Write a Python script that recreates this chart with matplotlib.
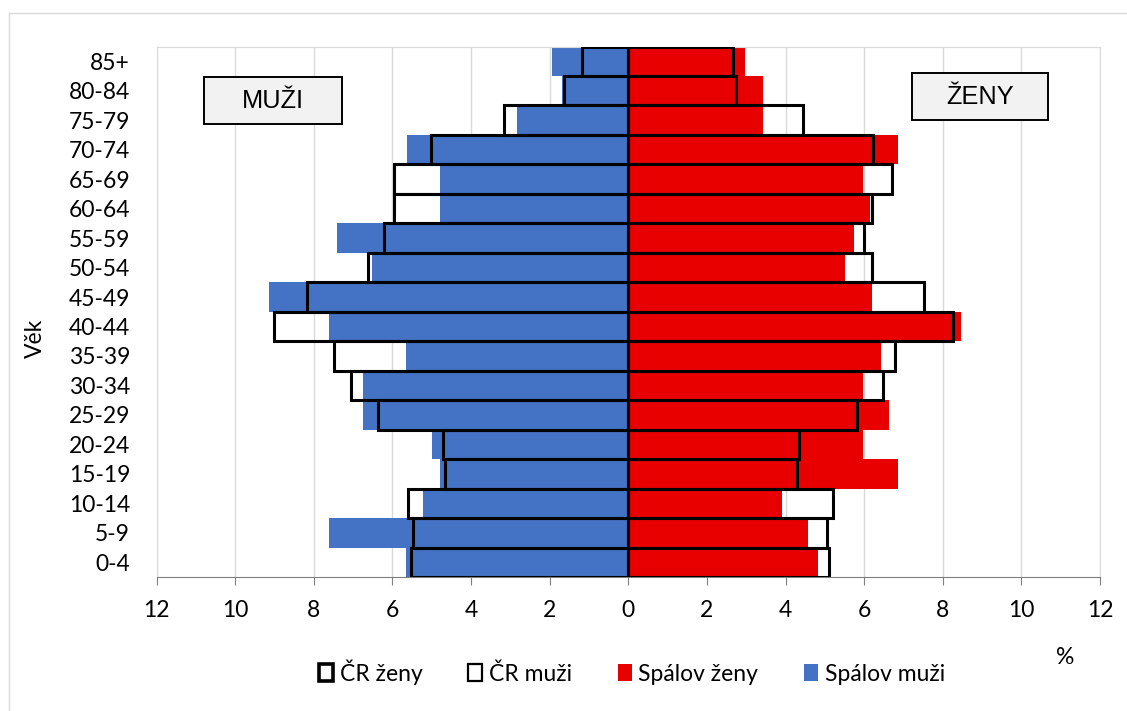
import matplotlib
matplotlib.use("Agg")
import matplotlib.pyplot as plt
from matplotlib.patches import Patch, Rectangle
from matplotlib.lines import Line2D

# vekove skupiny (odspodu nahoru)
vek = ["0-4", "5-9", "10-14", "15-19", "20-24", "25-29", "30-34", "35-39", "40-44",
       "45-49", "50-54", "55-59", "60-64", "65-69", "70-74", "75-79", "80-84", "85+"]

# podily v % (Spalov)
spalov_muzi = [5.65, 7.61, 5.22, 4.78, 5.00, 6.74, 6.74, 5.65, 7.61,
               9.14, 6.53, 7.40, 4.78, 4.78, 5.64, 2.83, 1.68, 1.95]
spalov_zeny = [4.82, 4.58, 3.90, 6.87, 5.97, 6.64, 5.97, 6.43, 8.47,
               6.19, 5.51, 5.74, 6.15, 5.97, 6.87, 3.44, 3.44, 2.98]

# podily v % (CR)
cr_muzi = [5.52, 5.47, 5.60, 4.66, 4.70, 6.37, 7.05, 7.49, 9.00,
           8.17, 6.62, 6.21, 5.97, 5.97, 5.03, 3.17, 1.63, 1.18]
cr_zeny = [5.11, 5.05, 5.20, 4.28, 4.34, 5.83, 6.47, 6.79, 8.26,
           7.53, 6.21, 6.00, 6.19, 6.71, 6.23, 4.45, 2.75, 2.66]

modra = "#4472C4"
cervena = "#E80000"
W, H = 1127, 711

fig = plt.figure(figsize=(W / 100, H / 100), dpi=100)
ax = fig.add_axes([156.5 / W, 1 - 577 / H, (1100 - 156.5) / W, (577 - 46.5) / H])

y = list(range(len(vek)))
ax.barh(y, [-v for v in spalov_muzi], height=1.0, color=modra, zorder=2)
ax.barh(y, spalov_zeny, height=1.0, color=cervena, zorder=2)
ax.barh(y, [-v for v in cr_muzi], height=1.0, facecolor="none", edgecolor="black",
        linewidth=2.2, zorder=3)
ax.barh(y, cr_zeny, height=1.0, facecolor="none", edgecolor="black",
        linewidth=2.2, zorder=3)

ax.set_xlim(-12, 12)
ax.set_ylim(-0.5, len(vek) - 0.5)
ticks = list(range(-12, 13, 2))
ax.set_xticks(ticks)
ax.set_xticklabels([str(abs(t)) for t in ticks], fontfamily="Lato", fontsize=16.5)
ax.set_yticks(y)
ax.set_yticklabels(vek, fontfamily="Lato", fontsize=16.5)
ax.tick_params(axis="x", direction="out", length=5.4, color="#7f7f7f", pad=11)
ax.tick_params(axis="y", length=0, pad=19)
ax.grid(axis="x", color="#d9d9d9", linewidth=1, zorder=0)
ax.set_axisbelow(True)
for s in ["top", "right", "left"]:
    ax.spines[s].set_color("#d9d9d9")
ax.spines["bottom"].set_color("#7f7f7f")

fig.text(35 / W, 1 - 338 / H, "Věk", rotation=90, ha="center", va="center",
         fontfamily="Lato", fontsize=16.5)
fig.text(1065 / W, 1 - 658 / H, "%", ha="center", va="center",
         fontfamily="Lato", fontsize=16.5)

# popisky MUZI / ZENY
for (x0, y0, x1, y1, txt) in [(204, 77, 342, 124, "MUŽI"), (912, 73, 1048, 120, "ŽENY")]:
    fig.patches.append(Rectangle((x0 / W, 1 - y1 / H), (x1 - x0) / W, (y1 - y0) / H,
                                 transform=fig.transFigure, facecolor="#f2f2f2",
                                 edgecolor="black", linewidth=1.4, zorder=5))
    fig.text((x0 + x1) / 2 / W, 1 - (y0 + y1) / 2 / H, txt, ha="center", va="center",
             fontfamily="Liberation Sans", fontsize=18.3, zorder=6)

# ramecek grafu
fig.add_artist(Line2D([8.5 / W, 1], [1 - 12.5 / H, 1 - 12.5 / H], color="#d9d9d9", lw=1))
fig.add_artist(Line2D([8.5 / W, 8.5 / W], [0, 1 - 12.5 / H], color="#d9d9d9", lw=1))

handles = [Patch(facecolor="white", edgecolor="black", linewidth=2.6, label="ČR ženy"),
           Patch(facecolor="white", edgecolor="black", linewidth=1.6, label="ČR muži"),
           Patch(facecolor=cervena, label="Spálov ženy"),
           Patch(facecolor=modra, label="Spálov muži")]
fig.legend(handles=handles, loc="center", bbox_to_anchor=(632 / W, 1 - 672 / H), ncol=4,
           frameon=False, prop={"family": "Lato", "size": 16.5}, handlelength=0.6,
           handleheight=0.75, handletextpad=0.3, columnspacing=2.0)

fig.savefig("out.png", dpi=100)
